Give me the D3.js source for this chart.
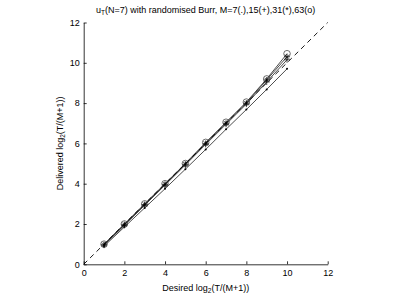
<!DOCTYPE html>
<html><head><meta charset="utf-8">
<script src="https://cdn.jsdelivr.net/npm/d3@7"></script>
<style>body{margin:0;background:#fff}svg{display:block}text{font-family:"Liberation Sans",Arial,sans-serif;fill:#000}</style>
</head><body>
<script>
const desired = [1,2,3,4,5,6,7,8,9,10];
const m63 = [1.0,2.0,3.0,4.0,5.0,6.05,7.05,8.05,9.2,10.45];
const m31 = [0.97,1.97,2.97,3.97,4.97,6.0,7.0,8.0,9.15,10.3];
const m15 = [0.95,1.93,2.93,3.93,4.93,5.95,6.95,7.95,9.05,10.15];
const m7  = [0.9,1.85,2.8,3.75,4.72,5.7,6.7,7.68,8.68,9.7];
const ticks = [0,2,4,6,8,10,12];
const titleText = "(N=7) with randomised Burr, M=7(.),15(+),31(*),63(o)";

const W=398,H=299;
const svg=d3.select("body").append("svg").attr("width",W).attr("height",H);
const x=d3.scaleLinear().domain([0,12]).range([83.7,327.7]);
const y=d3.scaleLinear().domain([0,12]).range([264.3,22.5]);

// axes
const xa=svg.append("g").attr("transform",`translate(0,${y(0)})`)
  .call(d3.axisBottom(x).tickValues(ticks).tickSizeInner(-3).tickSizeOuter(0).tickPadding(5));
const ya=svg.append("g").attr("transform",`translate(${x(0)},0)`)
  .call(d3.axisLeft(y).tickValues(ticks).tickSizeInner(-3).tickSizeOuter(0).tickPadding(4));
[xa,ya].forEach(a=>{a.selectAll("path,line").attr("stroke","#000").attr("stroke-width",0.8);
  a.selectAll("text").attr("font-size",9).attr("font-family","Liberation Sans, Arial, sans-serif");});

// diagonal
svg.append("line").attr("x1",x(0)).attr("y1",y(0)).attr("x2",x(12)).attr("y2",y(12))
  .attr("stroke","#000").attr("stroke-width",0.9).attr("stroke-dasharray","5,4");

const line=d3.line().x((d,i)=>x(desired[i])).y(d=>y(d));
const series=[{v:m7,m:"."},{v:m15,m:"+"},{v:m31,m:"*"},{v:m63,m:"o"}];
series.forEach(s=>{
  svg.append("path").attr("d",line(s.v)).attr("fill","none").attr("stroke","#000").attr("stroke-width",0.7);
  const g=svg.append("g");
  s.v.forEach((v,i)=>{
    const cx=x(desired[i]),cy=y(v);
    if(s.m==="."){g.append("circle").attr("cx",cx).attr("cy",cy).attr("r",1).attr("fill","#000");}
    else if(s.m==="o"){g.append("circle").attr("cx",cx).attr("cy",cy).attr("r",3.3).attr("fill","none").attr("stroke","#333").attr("stroke-width",0.7);}
    else if(s.m==="+"){g.append("path").attr("d",`M${cx-3},${cy}H${cx+3}M${cx},${cy-3}V${cy+3}`).attr("stroke","#000").attr("stroke-width",0.7);}
    else {const r=3,d=2.1;g.append("path").attr("d",`M${cx-r},${cy}H${cx+r}M${cx},${cy-r}V${cy+r}M${cx-d},${cy-d}L${cx+d},${cy+d}M${cx-d},${cy+d}L${cx+d},${cy-d}`).attr("stroke","#000").attr("stroke-width",0.7);}
  });
});

// title
const t=svg.append("text").attr("x",(x(0)+x(12))/2).attr("y",13).attr("text-anchor","middle").attr("font-size",9);
t.append("tspan").text("u");
t.append("tspan").attr("font-size",6.5).attr("dy",2).text("T");
t.append("tspan").attr("dy",-2).text(titleText);

// x label
const xl=svg.append("text").attr("x",(x(0)+x(12))/2).attr("y",291).attr("text-anchor","middle").attr("font-size",9);
xl.append("tspan").text("Desired log");
xl.append("tspan").attr("font-size",6.5).attr("dy",2).text("2");
xl.append("tspan").attr("dy",-2).text("(T/(M+1))");

// y label
const yl=svg.append("text").attr("transform",`translate(63,${(y(0)+y(12))/2}) rotate(-90)`).attr("text-anchor","middle").attr("font-size",9);
yl.append("tspan").text("Delivered log");
yl.append("tspan").attr("font-size",6.5).attr("dy",2).text("2");
yl.append("tspan").attr("dy",-2).text("(T/(M+1))");
</script>
</body></html>
